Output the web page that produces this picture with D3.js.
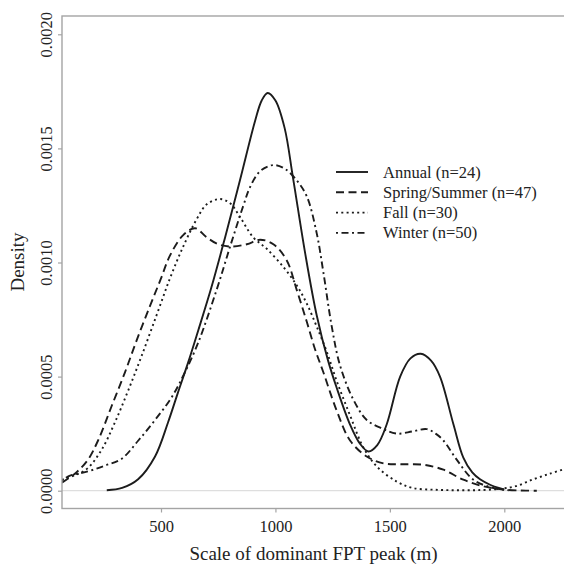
<!DOCTYPE html>
<html>
<head>
<meta charset="utf-8">
<script src="https://cdn.jsdelivr.net/npm/d3@7"></script>
<style>
  html, body { margin: 0; padding: 0; background: #fff; }
  svg { display: block; }
  text { font-family: "Liberation Serif", "Times New Roman", serif; fill: #222; }
</style>
</head>
<body>
<svg id="chart" width="564" height="566"></svg>
<script>
// ---- data ----
const seriesNames = ["Annual (n=24)", "Spring/Summer (n=47)", "Fall (n=30)", "Winter (n=50)"];
const xTicks = [500, 1000, 1500, 2000];
const yTicks = [0, 0.0005, 0.0010, 0.0015, 0.0020];

const annualX = [263, 330, 400, 474, 531, 574, 618, 662, 720, 780, 845, 911, 940, 966, 1000, 1040, 1077, 1130, 1180, 1230, 1268, 1326, 1370, 1406, 1445, 1486, 1545, 1590, 1635, 1680, 1719, 1778, 1821, 1860, 1894, 1940, 1982, 2000];
const annualY = [0.000002, 0.000012, 0.00005, 0.00015, 0.0003, 0.00043, 0.00056, 0.0007, 0.00089, 0.00111, 0.00136, 0.00162, 0.00171, 0.001743, 0.00171, 0.00159, 0.00137, 0.00104, 0.00077, 0.00057, 0.00045, 0.00029, 0.000205, 0.000172, 0.0002, 0.00029, 0.0005, 0.00058, 0.0006, 0.00057, 0.0005, 0.00029, 0.000145, 0.00008, 0.00005, 0.000025, 0.00001, 0.000005];

const springX = [67, 130, 181, 225, 284, 343, 394, 452, 500, 539, 597, 649, 700, 750, 802, 875, 933, 991, 1049, 1093, 1137, 1173, 1209, 1268, 1326, 1399, 1472, 1550, 1646, 1734, 1821, 1909, 1996, 2060, 2142];
const springY = [0.000035, 0.00008, 0.000136, 0.00022, 0.00037, 0.00052, 0.00066, 0.00081, 0.00093, 0.00103, 0.00112, 0.00115, 0.00111, 0.00108, 0.00107, 0.00108, 0.0011, 0.00108, 0.00101, 0.00088, 0.00074, 0.00062, 0.00052, 0.00035, 0.00022, 0.00015, 0.00012, 0.000116, 0.000114, 0.000092, 0.000048, 0.000019, 0.000005, 0.000001, 0];

const fallX = [67, 130, 181, 241, 299, 357, 415, 481, 539, 597, 656, 700, 758, 802, 845, 903, 962, 1035, 1093, 1137, 1180, 1224, 1268, 1326, 1384, 1443, 1530, 1600, 1700, 1800, 1900, 1980, 2050, 2127, 2200, 2261];
const fallY = [0.000048, 0.00007, 0.0001, 0.00018, 0.0003, 0.00044, 0.00059, 0.00077, 0.00093, 0.00107, 0.00119, 0.001255, 0.001278, 0.00126, 0.0012, 0.00111, 0.00106, 0.00098, 0.0009, 0.00082, 0.00072, 0.00061, 0.00048, 0.00033, 0.00019, 0.000106, 0.00004, 0.000012, 0.000004, 0.000002, 0.000003, 0.000008, 0.00002, 0.00005, 0.000075, 0.000094];

const winterX = [67, 95, 182, 255, 328, 401, 474, 547, 605, 663, 743, 802, 860, 889, 933, 991, 1042, 1093, 1137, 1180, 1209, 1246, 1282, 1340, 1399, 1472, 1530, 1600, 1661, 1700, 1734, 1792, 1865, 1952, 2020];
const winterY = [0.00004, 0.000063, 0.000085, 0.00011, 0.00014, 0.00022, 0.00031, 0.00041, 0.00052, 0.00065, 0.00088, 0.00107, 0.00125, 0.00133, 0.0014, 0.001427, 0.00141, 0.00136, 0.00129, 0.00113, 0.00096, 0.00072, 0.00055, 0.0004, 0.00031, 0.00027, 0.00025, 0.00026, 0.00027, 0.00025, 0.00022, 0.000136, 0.000048, 0.000012, 0.000002];

const dashes = ["none", "8,4.5", "2,3.3", "2,3.5,7,3.5"];

const series = [
  { name: seriesNames[0], xs: annualX, ys: annualY, dash: dashes[0] },
  { name: seriesNames[1], xs: springX, ys: springY, dash: dashes[1] },
  { name: seriesNames[2], xs: fallX, ys: fallY, dash: dashes[2] },
  { name: seriesNames[3], xs: winterX, ys: winterY, dash: dashes[3] }
];

// ---- layout ----
const svg = d3.select("#chart");
const plot = { left: 62, top: 16, right: 600, bottom: 508.5 };

const x = d3.scaleLinear().domain([500, 2000]).range([161, 504.3]);
const y = d3.scaleLinear().domain([0, 0.002]).range([490.7, 34.3]);

svg.append("defs").append("clipPath").attr("id", "clip")
  .append("rect").attr("x", plot.left).attr("y", plot.top)
  .attr("width", plot.right - plot.left).attr("height", plot.bottom - plot.top);

// zero line
svg.append("line")
  .attr("x1", plot.left).attr("x2", 564)
  .attr("y1", y(0)).attr("y2", y(0))
  .attr("stroke", "#dedede").attr("stroke-width", 1.2);

// curves
const line = d3.line()
  .x(d => x(d[0])).y(d => y(d[1]))
  .curve(d3.curveCatmullRom.alpha(0.5));

const g = svg.append("g").attr("clip-path", "url(#clip)");
series.forEach(s => {
  g.append("path")
    .datum(s.xs.map((v, i) => [v, s.ys[i]]))
    .attr("d", line)
    .attr("fill", "none")
    .attr("stroke", "#1c1c1c")
    .attr("stroke-width", 1.9)
    .attr("stroke-dasharray", s.dash === "none" ? null : s.dash);
});

// box
svg.append("rect")
  .attr("x", plot.left).attr("y", plot.top)
  .attr("width", plot.right - plot.left).attr("height", plot.bottom - plot.top)
  .attr("fill", "none").attr("stroke", "#a4a4a4").attr("stroke-width", 1.4);

// axes
const yAxis = d3.axisLeft(y).tickValues(yTicks).tickFormat(d3.format(".4f")).tickSize(4).tickPadding(0);
const ya = svg.append("g").attr("transform", `translate(${plot.left},0)`).call(yAxis);
ya.select(".domain").remove();
ya.selectAll(".tick line").attr("stroke", "#a4a4a4").attr("stroke-width", 1.2);
ya.selectAll(".tick text")
  .attr("x", null).attr("dy", null)
  .attr("transform", "translate(-10,0) rotate(-90)")
  .attr("text-anchor", "middle")
  .style("font-size", "16.5px")
  .style("font-family", '"Liberation Serif", "Times New Roman", serif')
  .attr("fill", "#333");

const xAxis = d3.axisBottom(x).tickValues(xTicks).tickFormat(d3.format("d")).tickSize(4);
const xa = svg.append("g").attr("transform", `translate(0,${plot.bottom})`).call(xAxis);
xa.select(".domain").remove();
xa.selectAll(".tick line").attr("stroke", "#a4a4a4").attr("stroke-width", 1.2);
xa.selectAll(".tick text")
  .attr("y", 23.5).attr("dy", null)
  .style("font-size", "16.5px")
  .style("font-family", '"Liberation Serif", "Times New Roman", serif')
  .attr("fill", "#333");

// axis titles
svg.append("text")
  .attr("x", 313.5).attr("y", 560)
  .attr("text-anchor", "middle")
  .style("font-size", "19px")
  .text("Scale of dominant FPT peak (m)");

svg.append("text")
  .attr("transform", "translate(24,262) rotate(-90)")
  .attr("text-anchor", "middle")
  .style("font-size", "19px")
  .text("Density");

// legend
const legend = svg.append("g");
series.forEach((s, i) => {
  const cy = 172 + i * 20.3;
  legend.append("line")
    .attr("x1", 336).attr("x2", 368)
    .attr("y1", cy).attr("y2", cy)
    .attr("stroke", "#1c1c1c").attr("stroke-width", 1.9)
    .attr("stroke-dasharray", s.dash === "none" ? null : s.dash);
  legend.append("text")
    .attr("x", 383).attr("y", cy + 5.5)
    .style("font-size", "16.5px")
    .text(s.name);
});
</script>
</body>
</html>
